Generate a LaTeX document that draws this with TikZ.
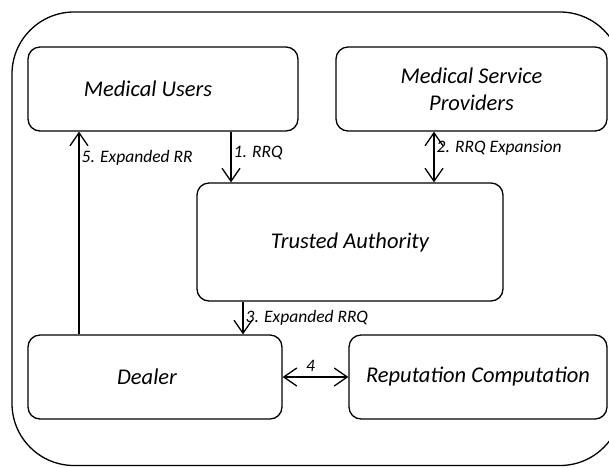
\documentclass[tikz,border=0pt]{standalone}
\usepackage{fontspec}
\setmainfont{Carlito}
\usetikzlibrary{arrows.meta}

\begin{document}
\begin{tikzpicture}[x=1pt,y=-1pt,>={Straight Barb[length=13pt,width=18pt]},
                    line width=1.3pt,
                    block/.style={draw,rounded corners=12pt,align=center,
                                  font=\fontsize{22.5}{27}\selectfont\itshape},
                    msg/.style={font=\fontsize{17.5}{20}\selectfont\itshape,
                                inner sep=2pt}]

  \useasboundingbox (0,0) rectangle (609,467);
  \draw[rounded corners=62pt] (12,12) rectangle (622,465.5);

  \node[block, minimum width=270pt, minimum height=84pt]  (mu)  at (163,89)   {Medical Users\hspace*{30pt}};
  \node[block, minimum width=271pt, minimum height=84pt]  (msp) at (471.5,89) {Medical Service\\Providers};
  \node[block, minimum width=306pt, minimum height=118pt] (ta)  at (350,242)  {Trusted Authority};
  \node[block, minimum width=254pt, minimum height=84pt]  (dl)  at (155,377)  {Dealer\hspace*{16pt}};
  \node[block, minimum width=258pt, minimum height=84pt]  (rc)  at (478,377)  {Reputation Computation};

  \coordinate (c1) at (231,0);
  \coordinate (c2) at (434,0);
  \coordinate (c3) at (243,0);
  \coordinate (c5) at (79,0);

  \path[->] (mu.south -| c1) edge node[msg,right,pos=0.42] {1. RRQ} (ta.north -| c1)
            (msp.south -| c2) edge[<->] node[msg,right,pos=0.32] {2. RRQ Expansion} (ta.north -| c2)
            (ta.south -| c3) edge node[msg,right,pos=0.5] {3. Expanded RRQ} (dl.north -| c3)
            (dl) edge[<->] node[msg,above,yshift=3pt,xshift=-5pt] {4} (rc)
            (dl.north -| c5) edge node[msg,right,pos=0.87] {5. Expanded RR} (mu.south -| c5);
\end{tikzpicture}
\end{document}
